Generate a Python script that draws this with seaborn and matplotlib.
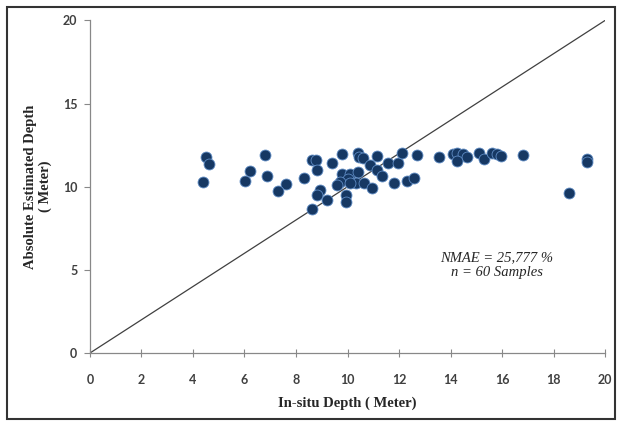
import matplotlib
matplotlib.use('Agg')
import matplotlib.pyplot as plt
import seaborn as sns
import pandas as pd
from matplotlib.patches import Rectangle

# In-situ depth vs absolute estimated depth (meters)
insitu_depth = [
    4.50, 4.62, 4.40, 6.21, 6.02, 6.81, 6.89, 7.60, 7.30, 8.31,
    8.61, 8.77, 8.80, 9.39, 9.79, 10.41, 10.46, 10.61, 11.13, 10.87,
    11.13, 11.33, 11.59, 11.97, 12.10, 12.69, 13.55, 9.80, 10.10, 10.41,
    10.03, 9.71, 9.58, 10.33, 10.65, 10.94, 11.81, 12.30, 12.59, 8.93,
    8.80, 9.22, 9.94, 9.94, 8.61, 14.11, 14.24, 14.50, 14.65, 14.24,
    15.12, 15.30, 15.62, 15.79, 15.95, 16.83, 19.31, 19.30, 18.61, 10.10,
]
estimated_depth = [
    11.79, 11.39, 10.29, 10.93, 10.37, 11.91, 10.67, 10.17, 9.75, 10.53,
    11.59, 11.59, 10.99, 11.45, 11.95, 12.03, 11.79, 11.73, 11.83, 11.31,
    10.99, 10.63, 11.45, 11.45, 12.03, 11.89, 11.77, 10.79, 10.79, 10.89,
    10.49, 10.29, 10.09, 10.23, 10.23, 9.95, 10.25, 10.33, 10.53, 9.79,
    9.49, 9.19, 9.49, 9.09, 8.67, 11.95, 12.03, 11.99, 11.79, 11.55,
    12.03, 11.69, 12.03, 11.95, 11.85, 11.91, 11.65, 11.50, 9.63, 10.20,
]

# 1:1 reference line
line_x = [0, 20]
line_y = [0, 20]

ticks_x = [0, 2, 4, 6, 8, 10, 12, 14, 16, 18, 20]
ticks_y = [0, 5, 10, 15, 20]

df = pd.DataFrame({'insitu': insitu_depth, 'estimated': estimated_depth})

sns.set_style('white')
plt.rcParams['font.family'] = ['Liberation Serif', 'DejaVu Serif']

fig = plt.figure(figsize=(6.18, 4.22), dpi=100)
ax = fig.add_axes([0.1456, 0.1635, 0.8334, 0.788])

sns.lineplot(x=line_x, y=line_y, ax=ax, color='#404040', linewidth=0.9)
sns.scatterplot(
    data=df,
    x='insitu',
    y='estimated',
    ax=ax,
    color='#163863',
    edgecolor='#5F8CC4',
    linewidth=0.6,
    s=62,
    zorder=3
)

ax.set_xlim(0, 20)
ax.set_ylim(0, 20)
ax.set_xticks(ticks_x)
ax.set_yticks(ticks_y)

tick_font = dict(family='Lato', weight='bold', size=9, color='#404040')
ax.set_xticklabels([str(t) for t in ticks_x], fontdict=tick_font)
ax.set_yticklabels([str(t) for t in ticks_y], fontdict=tick_font)

ax.tick_params(axis='x', direction='inout', length=6, width=0.8,
               color='#888888', pad=12)
ax.tick_params(axis='y', direction='out', length=4, width=0.8,
               color='#888888', pad=5)
ax.xaxis.set_ticks_position('bottom')
ax.yaxis.set_ticks_position('left')

for side in ['top', 'right']:
    ax.spines[side].set_visible(False)
for side in ['left', 'bottom']:
    ax.spines[side].set_color('#888888')
    ax.spines[side].set_linewidth(0.9)

ax.set_xlabel('In-situ Depth ( Meter)', fontsize=10.5, fontweight='bold',
              labelpad=8)
ax.set_ylabel('Absolute Estimated Depth\n( Meter)', fontsize=10.5,
              fontweight='bold', labelpad=8, linespacing=1.1)

ax.text(15.8, 5.75, 'NMAE = 25,777 %', ha='center', va='center',
        fontsize=10.5, style='italic')
ax.text(15.8, 4.85, 'n = 60 Samples', ha='center', va='center',
        fontsize=10.5, style='italic')

# outer frame around the chart
fig.patches.append(Rectangle((0.011, 0.007), 0.984, 0.976,
                             transform=fig.transFigure, fill=False,
                             edgecolor='#333333', linewidth=1.5))

fig.savefig('out.png', dpi=100)
